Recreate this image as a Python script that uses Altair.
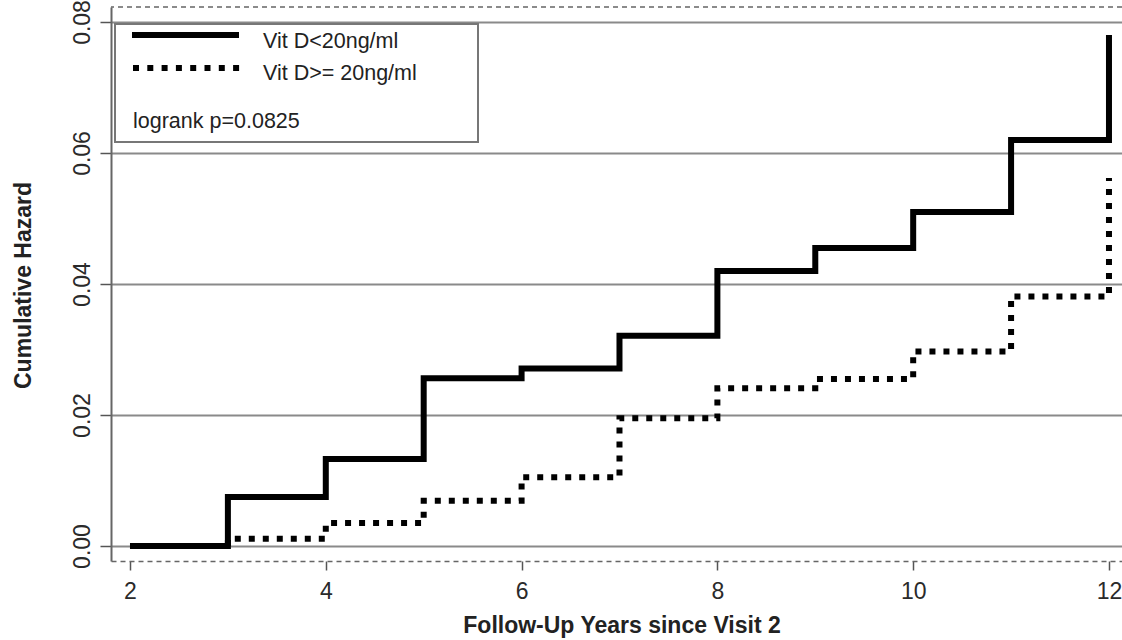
import altair as alt
import pandas as pd

# Follow-up years at which the cumulative hazard steps
years = [2, 3, 4, 5, 6, 7, 8, 9, 10, 11, 12]
# Cumulative hazard, vitamin D below 20 ng/ml
hazard_low = [0.0, 0.0075, 0.0133, 0.0256, 0.0271, 0.0321, 0.0420, 0.0455, 0.0510, 0.0620, 0.0780]
# Cumulative hazard, vitamin D at or above 20 ng/ml
hazard_high = [0.0, 0.0011, 0.0035, 0.0069, 0.0105, 0.0195, 0.0241, 0.0255, 0.0297, 0.0381, 0.0562]

series_names = ["Vit D<20ng/ml", "Vit D>= 20ng/ml"]
note_text = "logrank p=0.0825"
x_ticks = [2, 4, 6, 8, 10, 12]
y_ticks = [0.0, 0.02, 0.04, 0.06, 0.08]

X_DOMAIN = [1.806, 12.133]
Y_DOMAIN = [-0.00229, 0.08229]

W, H = 1011, 554
FONT = "Liberation Sans"

low_df = pd.DataFrame({"year": years, "hazard": hazard_low})
high_df = pd.DataFrame({"year": years, "hazard": hazard_high})

x_enc = alt.X(
    "year:Q",
    scale=alt.Scale(domain=X_DOMAIN, nice=False, zero=False),
    axis=alt.Axis(
        values=x_ticks, format="d", grid=False,
        domainColor="#666666", domainWidth=1.5, domainDash=[5, 4],
        tickColor="#555555", tickWidth=1.5, tickSize=9,
        labelFont=FONT, labelFontSize=23, labelColor="#2a2a2a", labelPadding=10,
        title="Follow-Up Years since Visit 2", titleFont=FONT, titleFontSize=23,
        titleFontWeight="bold", titleColor="#222222",
        titleX=W / 2 + 5, titleY=71, titleBaseline="alphabetic", titleAlign="center",
    ),
)
y_enc = alt.Y(
    "hazard:Q",
    scale=alt.Scale(domain=Y_DOMAIN, nice=False, zero=False),
    axis=alt.Axis(
        values=y_ticks, format=".2f",
        grid=True, gridColor="#8a8a8a", gridWidth=2,
        domainColor="#666666", domainWidth=2,
        tickColor="#555555", tickWidth=1.5, tickSize=11,
        labelFont=FONT, labelFontSize=23, labelColor="#2a2a2a",
        labelAngle=270, labelAlign="center", labelBaseline="alphabetic", labelPadding=11,
        title="Cumulative Hazard", titleFont=FONT, titleFontSize=23,
        titleFontWeight="bold", titleColor="#222222",
        titleAngle=270, titleX=-88, titleY=H / 2 + 1, titleAlign="center", titleBaseline="middle",
    ),
)

low_line = alt.Chart(low_df).mark_line(
    interpolate="step-after", color="black", strokeWidth=6,
    strokeCap="butt", strokeJoin="miter",
).encode(x=x_enc, y=y_enc)

high_line = alt.Chart(high_df).mark_line(
    interpolate="step-after", color="black", strokeWidth=6,
    strokeCap="butt", strokeJoin="miter", strokeDash=[6, 8],
).encode(x=alt.X("year:Q"), y=alt.Y("hazard:Q"))

# dashed upper frame line of the panel
top_frame = alt.Chart(pd.DataFrame({"k": [0]})).mark_rule(
    color="#666666", strokeWidth=1.5, strokeDash=[5, 4]
).encode(y=alt.datum(Y_DOMAIN[1]))

# legend box with line samples and the test note
one = pd.DataFrame({"k": [0]})
legend_box = alt.Chart(one).mark_rect(
    fill="white", stroke="#777777", strokeWidth=2
).encode(x=alt.value(4), x2=alt.value(367), y=alt.value(17), y2=alt.value(135))

sample_solid = alt.Chart(one).mark_rule(
    color="black", strokeWidth=6, strokeCap="butt"
).encode(x=alt.value(21), x2=alt.value(128), y=alt.value(28))

sample_dotted = alt.Chart(one).mark_rule(
    color="black", strokeWidth=6, strokeCap="butt", strokeDash=[6, 8.3]
).encode(x=alt.value(22), x2=alt.value(129), y=alt.value(61))

label_style = dict(font=FONT, fontSize=21.5, color="#222222", align="left", baseline="alphabetic")
label_low = alt.Chart(one).mark_text(text=series_names[0], **label_style).encode(
    x=alt.value(152), y=alt.value(41))
label_high = alt.Chart(one).mark_text(text=series_names[1], **label_style).encode(
    x=alt.value(152), y=alt.value(73))
label_note = alt.Chart(one).mark_text(text=note_text, **label_style).encode(
    x=alt.value(22), y=alt.value(121))

chart = alt.layer(
    low_line, high_line, top_frame,
    legend_box, sample_solid, sample_dotted, label_low, label_high, label_note,
).properties(
    width=W, height=H,
    autosize=alt.AutoSizeParams(type="none"),
    padding={"left": 111, "top": 7, "right": 0, "bottom": 79},
    background="white",
).configure_view(stroke=None)

chart.save("out.html", embed_options={"renderer": "svg", "actions": False})
